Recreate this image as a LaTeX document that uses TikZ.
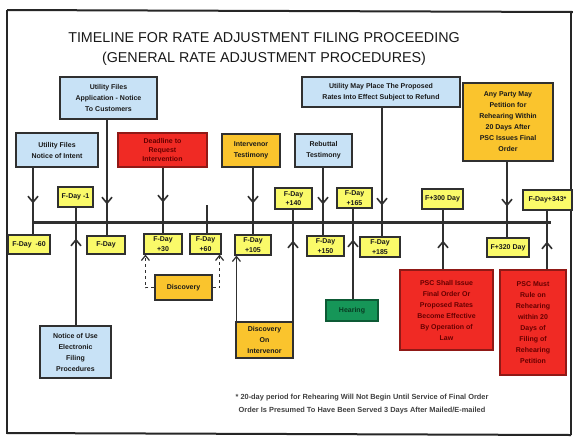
\documentclass[tikz,border=0pt]{standalone}
\usepackage{fontspec}
\setmainfont{Liberation Sans}
\usetikzlibrary{arrows.meta,decorations.markings}
\definecolor{lblue}{RGB}{200,226,246}
\definecolor{dyel}{RGB}{250,250,105}
\definecolor{orng}{RGB}{250,196,45}
\definecolor{redb}{RGB}{240,42,36}
\definecolor{grnb}{RGB}{22,150,88}
\definecolor{linec}{RGB}{48,48,48}
\begin{document}
\begin{tikzpicture}[x=1pt,y=-1pt,
  box/.style={draw=linec, line width=1.1pt, align=center, inner sep=0pt,
    font=\fontsize{7}{11}\selectfont\bfseries, text=black!90},
  wh/.style 2 args={minimum width=#1pt, minimum height=#2pt},
  bluebox/.style={box, fill=lblue},
  daybox/.style={box, fill=dyel, font=\fontsize{7}{9.5}\selectfont\bfseries},
  orangebox/.style={box, fill=orng},
  redbox/.style={box, fill=redb, draw=redb!60!black, text=red!40!black},
  greenbox/.style={box, fill=grnb, draw=grnb!60!black, text=grnb!40!black},
  conn/.style={draw=linec, line width=2.2pt},
  timeline/.style={draw=linec, line width=3pt},
  thinconn/.style={draw=linec, line width=1.1pt},
  midarrow/.style={postaction={decorate}, decoration={markings,
    mark=at position -31pt with {\arrow[linec]{Straight Barb[length=6pt,width=10pt,line width=1.6pt]}}}},
  endarrow/.style={-{Straight Barb[length=5pt,width=8pt,line width=1.2pt]}},
  frame/.style={draw=black!85, line width=2pt}
]
\useasboundingbox (0,0) rectangle (573,437);
\fill[white] (0,0) rectangle (573,437);

% frame
\draw[frame] (7,10) -- (573,12);
\draw[frame] (7,10) -- (7,434);
\draw[frame] (7,433) -- (571,435);
\draw[frame] (571,12) -- (571,435);

% title
\node[font=\fontsize{14.3}{16}\selectfont, text=black!90] (title1) at (264,37.5) {TIMELINE FOR RATE ADJUSTMENT FILING PROCEEDING};
\node[font=\fontsize{14.3}{16}\selectfont, text=black!90] (title2) at (264,59) {(GENERAL RATE ADJUSTMENT PROCEDURES)};

% top boxes
\node[bluebox, wh={82}{34}] (notice) at (57,150) {Utility Files\\Notice of Intent};
\node[bluebox, wh={97}{42}] (app) at (108.5,98) {Utility Files\\Application - Notice\\To Customers};
\node[redbox, wh={89}{34}, font=\fontsize{7}{9.3}\selectfont\bfseries] (red1) at (162.5,150) {Deadline to\\Request\\Intervention};
\node[orangebox, wh={58}{33}] (interv) at (251,150.5) {Intervenor\\Testimony};
\node[bluebox, wh={57}{33}] (rebut) at (323.5,150.5) {Rebuttal\\Testimony};
\node[bluebox, wh={158}{30}] (place) at (381,92) {Utility May Place The Proposed\\Rates Into Effect Subject to Refund};
\node[orangebox, wh={90}{78}] (party) at (508,122) {Any Party May\\Petition for\\Rehearing Within\\20 Days After\\PSC Issues Final\\Order};

% day boxes
\node[daybox, wh={42}{19}] (dm60) at (29,244.5) {F-Day \ -60};
\node[daybox, wh={35}{20}] (dm1) at (75.5,197) {F-Day -1};
\node[daybox, wh={38}{18}] (d0) at (106,245) {F-Day};
\node[daybox, wh={38}{20}] (d30) at (163,244) {F-Day\\+30};
\node[daybox, wh={31}{20}] (d60) at (205.5,244) {F-Day\\+60};
\node[daybox, wh={36}{20}] (d105) at (253,245) {F-Day\\+105};
\node[daybox, wh={37}{21}] (d140) at (293.5,198.5) {F-Day\\+140};
\node[daybox, wh={37}{20}] (d150) at (325.5,246) {F-Day\\+150};
\node[daybox, wh={35}{20}] (d165) at (354.5,198) {F-Day\\+165};
\node[daybox, wh={40}{20}] (d185) at (380,247) {F-Day\\+185};
\node[daybox, wh={41}{20}] (d300) at (442.5,199) {F+300 Day};
\node[daybox, wh={42}{19}] (d320) at (508,247.5) {F+320 Day};
\node[daybox, wh={49}{20}] (d343) at (547.5,200) {F-Day+343*};

% lower boxes
\node[bluebox, wh={71}{52}] (efile) at (75.5,352) {Notice of Use\\Electronic\\Filing\\Procedures};
\node[orangebox, wh={57}{25}] (disc) at (183.5,287.5) {Discovery};
\node[orangebox, wh={57}{36}] (discint) at (264.5,340) {Discovery\\On\\Intervenor};
\node[greenbox, wh={52}{21}] (hear) at (352,310.5) {Hearing};
\node[redbox, wh={93}{80}] (red2) at (446.5,310) {PSC Shall Issue\\Final Order Or\\Proposed Rates\\Become Effective\\By Operation of\\Law};
\node[redbox, wh={66}{105}] (red3) at (533,322.5) {PSC Must\\Rule on\\Rehearing\\within 20\\Days of\\Filing of\\Rehearing\\Petition};

% footnote
\node[font=\fontsize{7.4}{13.5}\selectfont\bfseries, text=black!75, align=center] (foot) at (362,404)
  {* 20-day period for Rehearing Will Not Begin Until Service of Final Order\\
   Order Is Presumed To Have Been Served 3 Days After Mailed/E-mailed};

% timeline
\coordinate (tlA) at (33,222);
\coordinate (tlB) at (551,222);
\draw[timeline] (tlA) -- (tlB);

\coordinate (v33) at (33,222);
\coordinate (v76) at (76,222);
\coordinate (v107) at (107,222);
\coordinate (v163) at (163,222);
\coordinate (v207) at (207,222);
\coordinate (v253) at (253,222);
\coordinate (v293) at (293,222);
\coordinate (v323) at (323,222);
\coordinate (v353) at (353,222);
\coordinate (v382) at (382,222);
\coordinate (v443) at (443,222);
\coordinate (v507) at (507,222);
\coordinate (v547) at (547,222);

% down connectors
\draw[conn, midarrow] (notice.south -| v33) -- (dm60.north -| v33);
\draw[conn, midarrow] (app.south -| v107) -- (d0.north -| v107);
\draw[conn, midarrow] (red1.south -| v163) -- (d30.north -| v163);
\draw[conn, midarrow] (interv.south -| v253) -- (d105.north -| v253);
\draw[conn, midarrow] (rebut.south -| v323) -- (d150.north -| v323);
\draw[conn, midarrow] (place.south -| v382) -- (d185.north -| v382);
\draw[conn, midarrow] (party.south -| v507) -- (d320.north -| v507);

% up connectors
\draw[conn, midarrow] (efile.north -| v76) -- (dm1.south -| v76);
\draw[conn, midarrow] (discint.north -| v293) -- (d140.south -| v293);
\draw[conn, midarrow] (hear.north -| v353) -- (d165.south -| v353);
\draw[conn, midarrow] (red2.north -| v443) -- (d300.south -| v443);
\draw[conn, midarrow] (red3.north -| v547) -- (d343.south -| v547);

% stub to F-Day +60
\coordinate (s60) at (207,205);
\draw[conn] (d60.north -| v207) -- (s60);

% discovery connectors
\draw[thinconn, dashed, endarrow] (disc.west) -| ([xshift=2pt]d30.south west);
\draw[thinconn, dashed, endarrow] (disc.east) -| ([xshift=-2pt]d60.south east);
\draw[thinconn, endarrow] ([xshift=1pt]discint.north west) -- ([xshift=2pt]d105.south west);
\end{tikzpicture}
\end{document}
